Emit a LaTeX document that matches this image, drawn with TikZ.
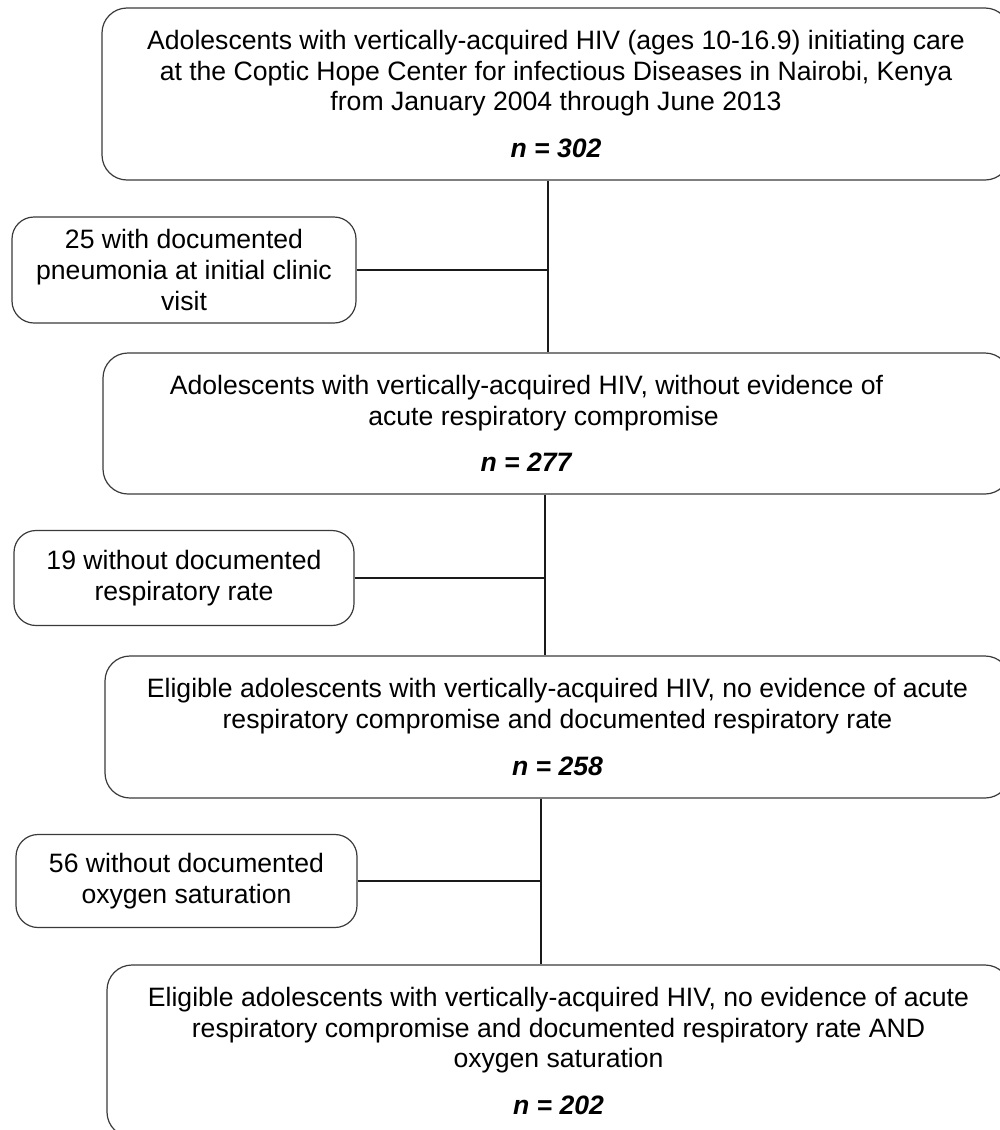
\documentclass[tikz,border=0pt]{standalone}
\usepackage{fontspec}
\setmainfont{Liberation Sans}
\usepackage{tikz}
\usetikzlibrary{positioning,calc}
\definecolor{FrameGray}{HTML}{3A3A3A}
\definecolor{LinkBlack}{HTML}{1A1A1A}
\newcommand{\ncount}[1]{\textbf{\textit{n = #1}}}
\newcommand{\padr}[1]{\rule{#1}{0pt}}
\tikzset{
  stagebox/.style={draw=FrameGray,line width=0.6pt,rounded corners=12.5pt,align=center,
              inner sep=4pt,font=\fontsize{13.3}{15.3}\selectfont},
  exclbox/.style={draw=FrameGray,line width=0.6pt,rounded corners=11pt,align=center,
              inner sep=3pt,font=\fontsize{13.3}{15.3}\selectfont},
  link/.style={line width=0.75pt,draw=LinkBlack}
}

\begin{document}
\begin{tikzpicture}[x=0.5pt,y=-0.5pt]
  \useasboundingbox (0,0) rectangle (1000,1130);
  \clip (0,0) rectangle (1000,1130);

  \node[stagebox,minimum width=454pt,minimum height=86pt] (cohort) at (556,94)
    {Adolescents with vertically-acquired HIV (ages 10-16.9) initiating care\\
     at the Coptic Hope Center for infectious Diseases in Nairobi, Kenya\\
     from January 2004 through June 2013\\[8pt]\ncount{302}};
  % this one sits a little left in the original
  \node[stagebox,minimum width=453.5pt,minimum height=70.5pt] (nocomp) at (556.5,423.5)
    {Adolescents with vertically-acquired HIV, without evidence of\padr{30pt}\\
     acute respiratory compromise\padr{13pt}\\[8pt]\ncount{277}\padr{30pt}};
  \node[stagebox,minimum width=452.5pt,minimum height=71pt] (withrr) at (557.5,727)
    {Eligible adolescents with vertically-acquired HIV, no evidence of acute\\
     respiratory compromise and documented respiratory rate\\[8pt]\ncount{258}};
  \node[stagebox,minimum width=451.5pt,minimum height=86pt] (final) at (558.5,1051)
    {Eligible adolescents with vertically-acquired HIV, no evidence of acute\\
     respiratory compromise and documented respiratory rate AND\\
     oxygen saturation\\[8pt]\ncount{202}};

  \node[exclbox,minimum width=172pt,minimum height=53pt] (pneumo) at (184,270)
    {25 with documented\\pneumonia at initial clinic\\visit};
  \node[exclbox,minimum width=170pt,minimum height=47.5pt] (norr) at (184,578)
    {19 without documented\\respiratory rate};
  \node[exclbox,minimum width=170.5pt,minimum height=46.5pt] (nosat) at (186.5,881)
    {56 without documented\\oxygen saturation};

  % spine of the flow, slightly left of the box centres
  \coordinate (s1) at ([xshift=-4pt]cohort.south);
  \coordinate (s2) at ([xshift=-5.75pt]nocomp.south);
  \coordinate (s3) at ([xshift=-8.25pt]withrr.south);

  \draw[link] (s1) -- (s1 |- nocomp.north);
  \draw[link] (s2) -- (s2 |- withrr.north);
  \draw[link] (s3) -- (s3 |- final.north);
  \draw[link] (pneumo.east) -- (pneumo.east -| s1);
  \draw[link] (norr.east) -- (norr.east -| s2);
  \draw[link] (nosat.east) -- (nosat.east -| s3);
\end{tikzpicture}
\end{document}
